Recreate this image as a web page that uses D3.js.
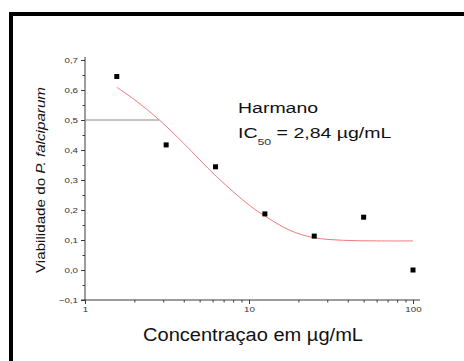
<!DOCTYPE html>
<html>
<head>
<meta charset="utf-8">
<script src="https://cdn.jsdelivr.net/npm/d3@7"></script>
<style>
  html, body { margin: 0; padding: 0; background: #fff; }
  svg text { font-family: "Liberation Sans", Arial, Helvetica, sans-serif; }
</style>
</head>
<body>
<svg id="chart" width="464" height="361"></svg>
<script>
// measured points
const concentrations = [1.5625, 3.125, 6.25, 12.5, 25, 50, 100];
const viability = [0.645, 0.417, 0.344, 0.187, 0.113, 0.176, 0.0];

// fitted curve
const fitConc = [1.5625, 2.0, 2.84, 4.0, 6.35, 10.1, 12.5, 17.8, 24.7, 37.6, 60, 100];
const fitViab = [0.609, 0.568, 0.5, 0.422, 0.311, 0.215, 0.18, 0.132, 0.108, 0.099, 0.097, 0.097];

const ic50 = 2.84;
const yMajorTicks = [-0.1, 0, 0.1, 0.2, 0.3, 0.4, 0.5, 0.6, 0.7];
const yMinorTicks = [-0.05, 0.05, 0.15, 0.25, 0.35, 0.45, 0.55, 0.65];
const xMajorTicks = [1, 10, 100];
const xMinorTicks = [2, 3, 4, 5, 6, 7, 8, 9, 20, 30, 40, 50, 60, 70, 80, 90];

const FONT = '"Liberation Sans", Arial, Helvetica, sans-serif';
const STRETCH = 1.3; // the original picture is squeezed wider than tall
const svg = d3.select('#chart');
const axisColor = '#3a3a3a';

// outer frame (runs off the right and bottom edges)
svg.append('rect')
  .attr('x', 11).attr('y', 14)
  .attr('width', 520).attr('height', 420)
  .attr('fill', 'none')
  .attr('stroke', '#000')
  .attr('stroke-width', 4);

const x = d3.scaleLog().domain([1, 100]).range([85, 413]);
const y = d3.scaleLinear().domain([-0.1, 0.7]).range([300, 60]);
const xEnd = 420;

const fmt = (d) => d3.format('.1f')(d).replace('.', ',');

// y axis
const gy = svg.append('g').attr('transform', `translate(${x(1)},0)`);
gy.call(d3.axisLeft(y).tickValues(yMajorTicks).tickSize(4).tickSizeOuter(0).tickFormat(fmt));
gy.append('g').call(d3.axisLeft(y).tickValues(yMinorTicks).tickSize(2.5).tickFormat(''))
  .select('.domain').remove();
gy.select('.domain').attr('d', `M0,${y(0.7) - 3}V${y(-0.1)}`);

// x axis
const gx = svg.append('g').attr('transform', `translate(0,${y(-0.1)})`);
gx.call(d3.axisBottom(x).tickValues(xMajorTicks).tickSize(4).tickSizeOuter(0).tickFormat(d3.format('d')));
gx.append('g').call(d3.axisBottom(x).tickValues(xMinorTicks).tickSize(2.5).tickFormat(''))
  .select('.domain').remove();
gx.select('.domain').attr('d', `M${x(1) - 4},0H${xEnd}`);

svg.selectAll('g').attr('font-family', FONT);
svg.selectAll('.tick line, .domain').attr('stroke', axisColor).attr('stroke-width', 1);
svg.selectAll('.tick text').attr('fill', '#333').attr('font-size', 7.5)
  .attr('font-family', FONT);
gy.selectAll('.tick text').attr('x', 0).attr('dy', '0.35em')
  .attr('transform', `translate(-7,0) scale(${STRETCH},1)`);
gx.selectAll('.tick text').attr('y', 7)
  .attr('transform', `scale(${STRETCH},1)`);

// IC50 guide line
svg.append('line')
  .attr('x1', x(1)).attr('x2', x(ic50))
  .attr('y1', y(0.5)).attr('y2', y(0.5))
  .attr('stroke', '#8a8a8a').attr('stroke-width', 1);

// fitted curve
const fitData = fitConc.map((c, i) => ({ c, v: fitViab[i] }));
svg.append('path')
  .datum(fitData)
  .attr('fill', 'none')
  .attr('stroke', '#f07a7a')
  .attr('stroke-width', 1)
  .attr('d', d3.line().x((d) => x(d.c)).y((d) => y(d.v)).curve(d3.curveCatmullRom.alpha(0.5)));

// measured points
const pts = concentrations.map((c, i) => ({ c, v: viability[i] }));
svg.append('g').selectAll('rect')
  .data(pts)
  .join('rect')
  .attr('x', (d) => x(d.c) - 2.5)
  .attr('y', (d) => y(d.v) - 2.5)
  .attr('width', 5).attr('height', 5)
  .attr('fill', '#000');

// annotation
const note = svg.append('g')
  .attr('transform', `translate(238,0) scale(${STRETCH},1)`);
note.append('text')
  .attr('x', 0).attr('y', 113)
  .attr('font-family', FONT).attr('font-size', 15).attr('fill', '#111')
  .text('Harmano');
const ic = note.append('text')
  .attr('x', 0).attr('y', 138)
  .attr('font-family', FONT).attr('font-size', 15).attr('fill', '#111');
ic.append('tspan').text('IC');
ic.append('tspan').attr('dy', 7).attr('font-size', 9.5).attr('fill', '#333').text('50');
ic.append('tspan').attr('dy', -7).text(' = 2,84 \u00b5g/mL');

// axis titles
svg.append('text')
  .attr('transform', `translate(45,180) rotate(-90)`)
  .attr('text-anchor', 'middle')
  .attr('font-family', FONT).attr('font-size', 12.5).attr('fill', '#111')
  .attr('textLength', 186).attr('lengthAdjust', 'spacingAndGlyphs')
  .call((t) => {
    t.append('tspan').text('Viabilidade do ');
    t.append('tspan').attr('font-style', 'italic').text('P. falciparum');
  });

svg.append('text')
  .attr('x', 253).attr('y', 341)
  .attr('text-anchor', 'middle')
  .attr('font-family', FONT).attr('font-size', 18).attr('fill', '#111')
  .attr('textLength', 220).attr('lengthAdjust', 'spacingAndGlyphs')
  .text('Concentraçao em \u00b5g/mL');
</script>
</body>
</html>
